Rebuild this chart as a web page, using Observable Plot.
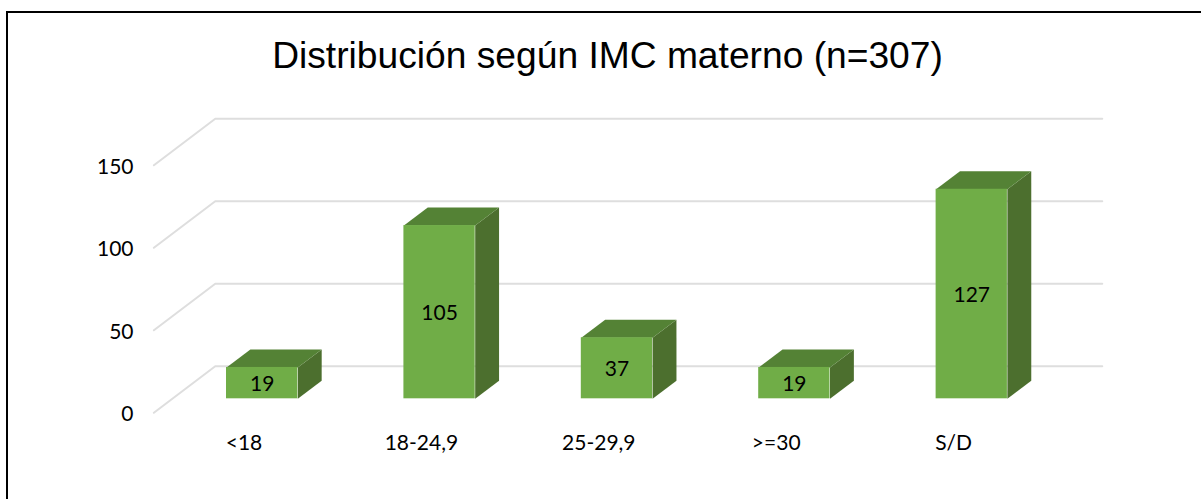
<!DOCTYPE html>
<html lang="es">
<head>
<meta charset="utf-8">
<script src="https://cdn.jsdelivr.net/npm/d3@7"></script>
<script src="https://cdn.jsdelivr.net/npm/@observablehq/plot@0.6"></script>
<style>
html,body{margin:0;padding:0;background:#fff;overflow:hidden}
#frame{position:absolute;left:5.5px;top:11px;right:-10px;bottom:-10px;border:2px solid #000;pointer-events:none}
svg{display:block}
</style>
</head>
<body>
<div id="chart"></div>
<div id="frame"></div>
<script>
const titleText = "Distribución según IMC materno (n=307)";
const categories = ["<18", "18-24,9", "25-29,9", ">=30", "S/D"];
const values = [19, 105, 37, 19, 127];
const yTicks = [0, 50, 100, 150];

// 3D projection constants, in data units
const barLeft = -0.0986, barRight = 0.3033;
const baseLift = 8.48, depthX = 0.1345, depthY = 10.9;
const wallX0 = -0.508, wallX1 = -0.162, wallX2 = 4.838, wallY = 28.2;

const rows = values.map((v, i) => ({
  i, v, x1: i + barLeft, x2: i + barRight, y0: baseLift, y1: v + baseLift
}));
const side = rows.flatMap(d => [
  {k: d.i, x: d.x2, y: d.y0},
  {k: d.i, x: d.x2 + depthX, y: d.y0 + depthY},
  {k: d.i, x: d.x2 + depthX, y: d.y1 + depthY},
  {k: d.i, x: d.x2, y: d.y1}
]);
const top_ = rows.flatMap(d => [
  {k: d.i, x: d.x1, y: d.y1},
  {k: d.i, x: d.x1 + depthX, y: d.y1 + depthY},
  {k: d.i, x: d.x2 + depthX, y: d.y1 + depthY},
  {k: d.i, x: d.x2, y: d.y1}
]);
const grid = yTicks.flatMap(t => [
  {t, x: wallX0, y: t},
  {t, x: wallX1, y: t + wallY},
  {t, x: wallX2, y: t + wallY}
]);

const plot = Plot.plot({
  width: 1201,
  height: 499,
  marginLeft: 139,
  marginRight: 0,
  marginTop: 0,
  marginBottom: 69,
  style: {background: "#fff", fontFamily: "Lato", fontSize: "21px", color: "#000"},
  x: {type: "linear", domain: [0, 4], range: [243.5, 953.1], axis: null},
  y: {type: "linear", domain: [0, 150], range: [412.3, 164.8], axis: null},
  marks: [
    Plot.line(grid, {x: "x", y: "y", z: "t", stroke: "#dedede", strokeWidth: 2}),
    Plot.line(side, {x: "x", y: "y", z: "k", fill: "#4c6f2e", stroke: "none", curve: "linear-closed"}),
    Plot.line(top_, {x: "x", y: "y", z: "k", fill: "#548235", stroke: "none", curve: "linear-closed"}),
    Plot.rect(rows, {x1: "x1", x2: "x2", y1: "y0", y2: "y1", fill: "#70ad47"}),
    Plot.text(rows, {
      x: d => (d.x1 + d.x2) / 2, y: d => (d.y0 + d.y1) / 2, text: d => String(d.v),
      fill: "#000", fontFamily: "Lato", fontSize: 21, dy: 1
    }),
    Plot.axisY({ticks: yTicks, tickSize: 0, tickPadding: 6, label: null, fontFamily: "Lato", fontSize: 21, dy: 1.5}),
    Plot.axisX({
      ticks: categories.map((_, i) => i),
      tickFormat: i => categories[i],
      tickSize: 0, tickPadding: 5, label: null, fontFamily: "Lato", fontSize: 21
    }),
    Plot.text([titleText], {
      frameAnchor: "top-left", text: d => d, textAnchor: "middle", lineAnchor: "bottom",
      dx: 468, dy: 67, fontFamily: "Liberation Sans", fontSize: 37.2, fill: "#000"
    })
  ]
});
document.getElementById("chart").appendChild(plot);
</script>
</body>
</html>
